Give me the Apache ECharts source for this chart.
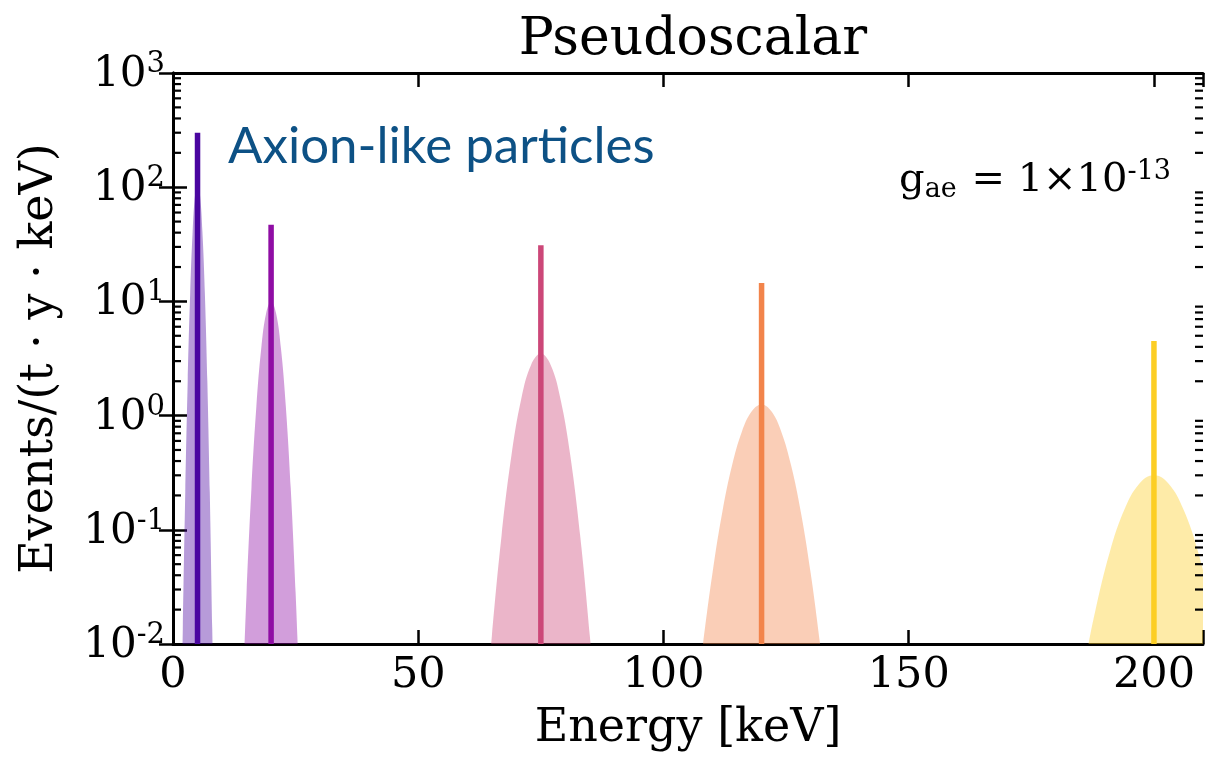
<!DOCTYPE html>
<html>
<head>
<meta charset="utf-8">
<script src="https://cdn.jsdelivr.net/npm/echarts@6/dist/echarts.min.js"></script>
<style>
  html, body { margin: 0; padding: 0; background: #ffffff; }
  #chart { width: 1206px; height: 757px; }
</style>
</head>
<body>
<div id="chart"></div>
<script>
// Mono-energetic ALP lines (keV) and their rates before smearing
const lineEnergies = [5, 20, 75, 120, 200];
const lineRates = [300, 47, 31, 14.5, 4.5];
const lineColors = ['#4a06a0', '#8f0da4', '#cc4778', '#f2844b', '#fcce25'];

// Detector-smeared spectra around each line: energy (keV) and rate
const smeared5E = [1.7, 2.0, 2.5, 3.0, 3.5, 4.0, 4.5, 5.0, 5.5, 6.0, 6.5, 7.0, 7.5, 8.0, 8.3];
const smeared5R = [0.002, 0.0136, 0.212, 2.01, 11.6, 40.5, 85.7, 110, 85.7, 40.5, 11.6, 2.01, 0.212, 0.0136, 0.002];

const smeared20E = [14, 15, 16, 17, 18, 19, 20, 21, 22, 23, 24, 25, 26];
const smeared20R = [0.0021, 0.028, 0.233, 1.21, 3.91, 7.9, 10, 7.9, 3.91, 1.21, 0.233, 0.028, 0.0021];

const smeared75E = [64, 65, 67, 69, 71, 73, 75, 77, 79, 81, 83, 85, 86];
const smeared75R = [0.0035, 0.0116, 0.09, 0.447, 1.4, 2.78, 3.5, 2.78, 1.4, 0.447, 0.09, 0.0116, 0.0035];

const smeared120E = [107, 108, 110, 112, 114, 116, 118, 120, 122, 124, 126, 128, 130, 132, 133];
const smeared120R = [0.0041, 0.0095, 0.042, 0.143, 0.369, 0.727, 1.09, 1.25, 1.09, 0.727, 0.369, 0.143, 0.042, 0.0095, 0.0041];

const smeared200E = [185, 186, 188, 191, 194, 197, 200, 203, 206, 209, 212];
const smeared200R = [0.0041, 0.0071, 0.0192, 0.064, 0.151, 0.253, 0.3, 0.253, 0.151, 0.064, 0.0192];

const smearedE = [smeared5E, smeared20E, smeared75E, smeared120E, smeared200E];
const smearedR = [smeared5R, smeared20R, smeared75R, smeared120R, smeared200R];

// Axis ranges and ticks
const xTicks = [0, 50, 100, 150, 200];
const xMax = 210;
const yMin = 0.01, yMax = 1000;

const serif = '"DejaVu Serif", serif';

const series = [];
smearedE.forEach((es, i) => {
  series.push({
    type: 'line',
    data: es.map((e, j) => [e, smearedR[i][j]]),
    smooth: 0.4,
    showSymbol: false,
    clip: true,
    lineStyle: { width: 0 },
    areaStyle: { color: lineColors[i], opacity: 0.4, origin: 'start' },
    silent: true,
    z: 2
  });
});
lineEnergies.forEach((e, i) => {
  series.push({
    type: 'line',
    data: [[e, yMin], [e, lineRates[i]]],
    showSymbol: false,
    clip: true,
    lineStyle: { width: 5.5, color: lineColors[i], cap: 'butt' },
    silent: true,
    z: 3
  });
});

const expLabel = v => {
  const p = Math.round(Math.log10(v));
  return '{b|10}{s|' + (p < 0 ? '-' + (-p) : p) + '}';
};

const axisLine = { show: true, lineStyle: { color: '#000', width: 3 } };
const majorTick = { show: true, inside: true, length: 14, lineStyle: { color: '#000', width: 2.5 } };

const chart = echarts.init(document.getElementById('chart'));
chart.setOption({
  animation: false,
  backgroundColor: '#ffffff',
  title: {
    text: 'Pseudoscalar',
    left: 688, top: 9, textAlign: 'center',
    textStyle: { fontFamily: serif, fontSize: 52, fontWeight: 'normal', color: '#000' }
  },
  grid: { left: 173, right: 2, top: 73, bottom: 110, containLabel: false },
  xAxis: [{
    type: 'value', min: 0, max: xMax, interval: 50,
    name: 'Energy [keV]', nameLocation: 'middle', nameGap: 62,
    nameTextStyle: { fontFamily: serif, fontSize: 46, color: '#000' },
    axisLine: axisLine, axisTick: majorTick,
    axisLabel: {
      margin: 10, fontFamily: serif, fontSize: 43, color: '#000',
      formatter: v => (xTicks.indexOf(v) >= 0 ? String(v) : '')
    },
    splitLine: { show: false }
  }, {
    type: 'value', min: 0, max: xMax, interval: 50, position: 'top',
    axisLine: axisLine, axisTick: majorTick, axisLabel: { show: false }, splitLine: { show: false }
  }],
  yAxis: [{
    type: 'log', logBase: 10, min: yMin, max: yMax, interval: 1,
    name: 'Events/(t · y · keV)', nameLocation: 'middle', nameGap: 110, nameRotate: 90,
    nameTextStyle: { fontFamily: serif, fontSize: 46, color: '#000' },
    axisLine: axisLine, axisTick: majorTick,
    axisLabel: {
      margin: 8, formatter: expLabel,
      rich: {
        b: { fontFamily: serif, fontSize: 42, color: '#000', lineHeight: 46, verticalAlign: 'bottom' },
        s: { fontFamily: serif, fontSize: 29, color: '#000', lineHeight: 46, verticalAlign: 'top', padding: [0, 0, 16, 0] }
      }
    },
    splitLine: { show: false }
  }, {
    type: 'log', logBase: 10, min: yMin, max: yMax, interval: 1, position: 'right',
    axisLine: axisLine, axisTick: majorTick, axisLabel: { show: false }, splitLine: { show: false }
  }],
  series: series
});

// Minor log ticks (2..9 within each decade) on both vertical spines, plus annotations
const gfx = [];
const xL = chart.convertToPixel({ xAxisIndex: 0 }, 0);
const xR = chart.convertToPixel({ xAxisIndex: 0 }, xMax);
for (let p = -2; p < 3; p++) {
  for (let k = 2; k <= 9; k++) {
    const y = chart.convertToPixel({ yAxisIndex: 0 }, k * Math.pow(10, p));
    gfx.push({ type: 'line', shape: { x1: xL, y1: y, x2: xL + 8, y2: y }, style: { stroke: '#000', lineWidth: 2.2 }, z: 10 });
    gfx.push({ type: 'line', shape: { x1: xR - 8, y1: y, x2: xR, y2: y }, style: { stroke: '#000', lineWidth: 2.2 }, z: 10 });
  }
}
gfx.push({
  type: 'text', left: 228, top: 121, z: 10,
  style: { text: 'Axion-like particles', font: '51px Lato, "Open Sans", sans-serif', fill: '#0d5185' }
});
gfx.push({
  type: 'text', right: 35, top: 158, z: 10,
  style: {
    text: '{g|g}{sub|ae}{g| = 1×10}{sup|-13}',
    rich: {
      g: { fontFamily: serif, fontSize: 40, color: '#000', lineHeight: 52, verticalAlign: 'middle' },
      sub: { fontFamily: serif, fontSize: 27, color: '#000', lineHeight: 52, padding: [18, 2, 0, 0] },
      sup: { fontFamily: serif, fontSize: 27, color: '#000', lineHeight: 52, padding: [0, 0, 18, 0] }
    }
  }
});
chart.setOption({ graphic: { elements: gfx } });
</script>
</body>
</html>
